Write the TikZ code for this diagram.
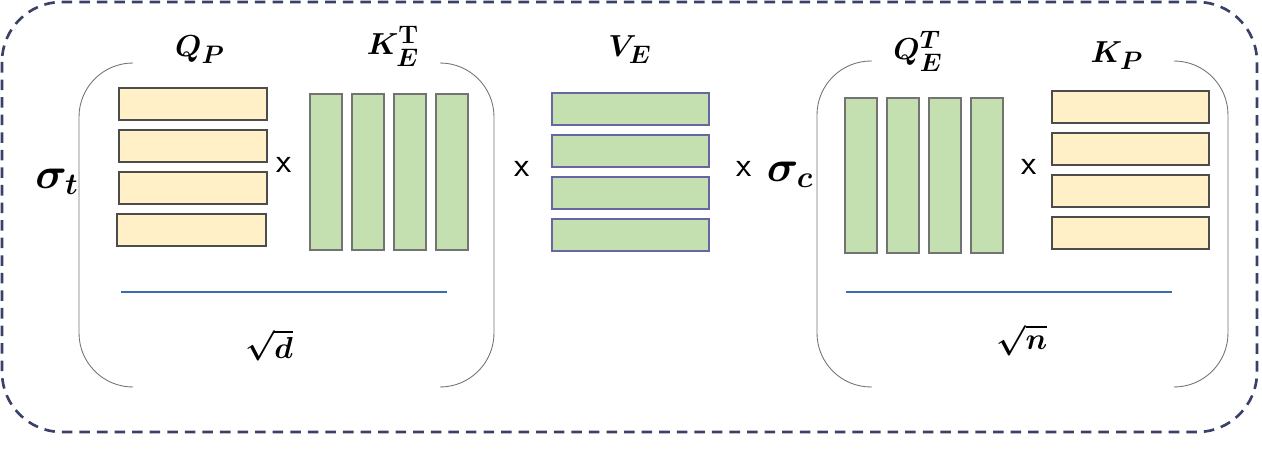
\documentclass[tikz,border=0pt]{standalone}
\usepackage{amsmath, amssymb, bm}
\usepackage{tikz}
\definecolor{navy}{HTML}{3A4068}
\definecolor{qyellow}{HTML}{FFF0C8}
\definecolor{kgreen}{HTML}{C5E0B0}
\definecolor{lineblue}{HTML}{3A6DB0}
\tikzset{
  ybar/.style={fill=qyellow, draw=black!70, line width=0.6pt},
  gbar/.style={fill=kgreen, draw=black!55, line width=0.6pt},
  vbar/.style={fill=kgreen, draw=blue!40!black!60, line width=0.6pt},
  brack/.style={draw=black!55, line width=0.5pt, rounded corners=1.08cm},
  lbl/.style={font=\fontsize{19}{22}\selectfont},
  sig/.style={font=\fontsize{23}{26}\selectfont},
  times/.style={font=\fontsize{20}{22}\selectfont\sffamily},
}

\begin{document}
\begin{tikzpicture}[x=0.02cm, y=-0.02cm]
    \useasboundingbox (0,0) rectangle (1262,459);

    % Outer dashed frame
    \draw[navy, line width=1.5pt, dash pattern=on 6pt off 4pt, rounded corners=1.2cm] (2,2) rectangle (1257,432);

    % Left factor: Q_P K_E^T / sqrt(d)
    \node[sig] (sigt) at (57,182) {$\boldsymbol{\sigma_t}$};
    \draw[brack] (133,63) -- (79,63) -- (79,387) -- (133,387);
    \draw[brack] (440,63) -- (494,63) -- (494,387) -- (440,387);
    \node[lbl] (qp) at (200,50) {$\boldsymbol{Q_P}$};
    \node[lbl] (ket) at (393,46) {$\boldsymbol{K_E^{\mathrm{T}}}$};
    \foreach \y in {88,130,172} {
        \filldraw[ybar] (119,\y) rectangle (267,\y+32);
    }
    \filldraw[ybar] (117,214) rectangle (266,246);
    \node[times] (x1) at (284,165) {x};
    \foreach \x in {310,352,394,436} {
        \filldraw[gbar] (\x,94) rectangle (\x+32,250);
    }
    \draw[lineblue, line width=1.7pt] (121,292) -- (447,292);
    \node[lbl] (sqd) at (269,345) {$\boldsymbol{\sqrt{d}}$};

    % Middle: V_E
    \node[times] (x2) at (522,169) {x};
    \node[lbl] (ve) at (630,50) {$\boldsymbol{V_E}$};
    \foreach \y in {93,135,177,219} {
        \filldraw[vbar] (552,\y) rectangle (709,\y+32);
    }
    \node[times] (x3) at (744,169) {x};

    % Right factor: Q_E^T K_P / sqrt(n)
    \node[sig] (sigc) at (790,175) {$\boldsymbol{\sigma_c}$};
    \draw[brack] (872,61) -- (817,61) -- (817,387) -- (872,387);
    \draw[brack] (1174,61) -- (1228,61) -- (1228,387) -- (1174,387);
    \node[lbl] (qet) at (918,51) {$\boldsymbol{Q_E^{T}}$};
    \node[lbl] (kp) at (1117,56) {$\boldsymbol{K_P}$};
    \foreach \x in {845,887,929,971} {
        \filldraw[gbar] (\x,98) rectangle (\x+32,253);
    }
    \node[times] (x4) at (1029,167) {x};
    \foreach \y in {91,133,175,217} {
        \filldraw[ybar] (1052,\y) rectangle (1209,\y+32);
    }
    \draw[lineblue, line width=1.7pt] (846,292) -- (1172,292);
    \node[lbl] (sqn) at (1022,340) {$\boldsymbol{\sqrt{n}}$};
\end{tikzpicture}
\end{document}
